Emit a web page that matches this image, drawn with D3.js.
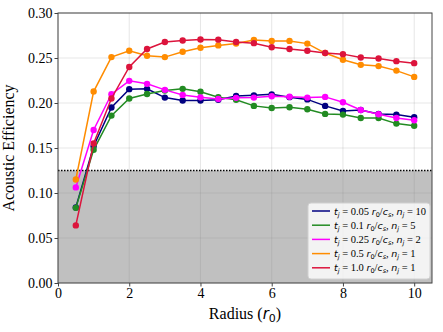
<!DOCTYPE html>
<html>
<head>
<meta charset="utf-8">
<script src="https://cdn.jsdelivr.net/npm/d3@7"></script>
<style>
body { margin: 0; background: #fff; }
text { fill: #000; }
</style>
</head>
<body>
<div id="my_dataviz"></div>
<script>
// radius sample points
var radius = [0.5, 1, 1.5, 2, 2.5, 3, 3.5, 4, 4.5, 5, 5.5, 6, 6.5, 7, 7.5, 8, 8.5, 9, 9.5, 10];

// acoustic efficiency per run
var eff_005 = [0.084, 0.152, 0.195, 0.2154, 0.2157, 0.206, 0.2027, 0.2027, 0.2035, 0.2078, 0.2085, 0.2096, 0.2065, 0.204, 0.1968, 0.1912, 0.1923, 0.1879, 0.1871, 0.1842];
var eff_01 = [0.0835, 0.148, 0.186, 0.205, 0.210, 0.2138, 0.2157, 0.2126, 0.2065, 0.2035, 0.1968, 0.1945, 0.1952, 0.1931, 0.1879, 0.1871, 0.1834, 0.1834, 0.1771, 0.1748];
var eff_025 = [0.1062, 0.170, 0.2098, 0.2246, 0.2213, 0.2146, 0.209, 0.2063, 0.2044, 0.2057, 0.206, 0.2075, 0.207, 0.206, 0.2068, 0.2009, 0.1923, 0.1875, 0.1834, 0.1808];
var eff_05 = [0.115, 0.2127, 0.251, 0.258, 0.2525, 0.251, 0.257, 0.2614, 0.264, 0.266, 0.270, 0.269, 0.269, 0.266, 0.2555, 0.248, 0.2424, 0.241, 0.236, 0.229];
var eff_10 = [0.064, 0.155, 0.205, 0.240, 0.260, 0.2677, 0.2695, 0.2706, 0.2704, 0.2677, 0.2665, 0.262, 0.260, 0.258, 0.2555, 0.2543, 0.2506, 0.2495, 0.2465, 0.2443];

var series = [
  {tj: "0.05", nj: "10", values: eff_005, color: "#000080"},
  {tj: "0.1", nj: "5", values: eff_01, color: "#228B22"},
  {tj: "0.25", nj: "2", values: eff_025, color: "#FF00FF"},
  {tj: "0.5", nj: "1", values: eff_05, color: "#FF8C00"},
  {tj: "1.0", nj: "1", values: eff_10, color: "#DC143C"}
];

var xTicks = [0, 2, 4, 6, 8, 10];
var yTicks = [0.00, 0.05, 0.10, 0.15, 0.20, 0.25, 0.30];
var threshold = 0.125;

// set the dimensions and margins of the graph
var margin = {top: 13, right: 11, bottom: 49, left: 58},
width = 443 - margin.left - margin.right,
height = 332 - margin.top - margin.bottom;

var svg = d3.select("#my_dataviz")
.append("svg")
.attr("width", 443)
.attr("height", 332)
.append("g")
.attr("transform", "translate(" + margin.left + "," + margin.top + ")");

var x = d3.scaleLinear().domain([0, 10.5]).range([0, width]);
var y = d3.scaleLinear().domain([0, 0.30]).range([height, 0]);

// shaded area below threshold
svg.append("rect")
.attr("x", 0)
.attr("y", y(threshold))
.attr("width", width)
.attr("height", y(0) - y(threshold))
.style("fill", "#c0c0c0");

// grid
svg.append("g").selectAll("line.gx")
.data(xTicks).enter().append("line")
  .attr("x1", function(d){ return x(d); })
  .attr("x2", function(d){ return x(d); })
  .attr("y1", 0).attr("y2", height)
  .style("stroke", "rgba(128,128,128,0.2)").style("stroke-width", 1);
svg.append("g").selectAll("line.gy")
.data(yTicks).enter().append("line")
  .attr("y1", function(d){ return y(d); })
  .attr("y2", function(d){ return y(d); })
  .attr("x1", 0).attr("x2", width)
  .style("stroke", "rgba(128,128,128,0.2)").style("stroke-width", 1);

// dotted threshold line
svg.append("line")
.attr("x1", 0).attr("x2", width)
.attr("y1", y(threshold)).attr("y2", y(threshold))
.style("stroke", "#000").style("stroke-width", 1.5)
.style("stroke-dasharray", "1.5,1.5");

// lines and dots
var line = d3.line()
.x(function(d, i){ return x(radius[i]); })
.y(function(d){ return y(d); });

series.forEach(function(s){
  svg.append("path")
  .datum(s.values)
  .attr("d", line)
  .style("fill", "none")
  .style("stroke", s.color)
  .style("stroke-width", 1.5);
  svg.append("g").selectAll("circle")
  .data(s.values).enter().append("circle")
    .attr("cx", function(d, i){ return x(radius[i]); })
    .attr("cy", function(d){ return y(d); })
    .attr("r", 3.2)
    .style("fill", s.color);
});

// frame
svg.append("rect")
.attr("width", width).attr("height", height)
.style("fill", "none").style("stroke", "#444").style("stroke-width", 1);

// axes
var xAxis = svg.append("g")
.attr("transform", "translate(0," + height + ")")
.call(d3.axisBottom(x).tickValues(xTicks).tickSize(3.5).tickPadding(2).tickFormat(d3.format("d")));
var yAxis = svg.append("g")
.call(d3.axisLeft(y).tickValues(yTicks).tickSize(3.5).tickPadding(2).tickFormat(d3.format(".2f")));
[xAxis, yAxis].forEach(function(a){
  a.select(".domain").remove();
  a.selectAll("line").style("stroke", "#444");
  a.selectAll("text").style("font-family", "'Liberation Serif', serif").style("font-size", "14px").style("fill", "#000");
});

// axis labels
var xl = svg.append("text")
.attr("x", width / 2).attr("y", height + 36)
.attr("text-anchor", "middle")
.style("font-family", "'Liberation Serif', serif").style("font-size", "16px");
xl.append("tspan").text("Radius (");
xl.append("tspan").text("r").style("font-family", "'DejaVu Sans', sans-serif").style("font-style", "italic").style("font-size", "15px");
xl.append("tspan").text("0").attr("dy", 3).style("font-family", "'DejaVu Sans', sans-serif").style("font-size", "11px");
xl.append("tspan").text(")").attr("dy", -3);

svg.append("text")
.attr("transform", "translate(" + (-44) + "," + (height / 2) + ") rotate(-90)")
.attr("text-anchor", "middle")
.style("font-family", "'Liberation Serif', serif").style("font-size", "16px")
.text("Acoustic Efficiency");

// legend
var lg = svg.append("g").attr("transform", "translate(" + (308 - margin.left) + "," + (203 - margin.top) + ")");
lg.append("rect")
.attr("width", 122).attr("height", 76).attr("rx", 3)
.style("fill", "rgba(255,255,255,0.8)").style("stroke", "#d0d0d0");

var sans = "'DejaVu Sans', sans-serif";
series.forEach(function(s, i){
  var row = lg.append("g").attr("transform", "translate(0," + (8 + i * 14.2) + ")");
  row.append("line")
  .attr("x1", 4).attr("x2", 22)
  .style("stroke", s.color).style("stroke-width", 1.5);
  var t = row.append("text")
  .attr("x", 26).attr("y", 3.5)
  .style("font-family", "'Liberation Serif', serif").style("font-size", "10.5px");
  function v(str){ return t.append("tspan").text(str).style("font-family", sans).style("font-style", "italic").style("font-size", "9.5px"); }
  function sub(str, it){ return t.append("tspan").text(str).attr("dy", 2).style("font-family", sans).style("font-style", it ? "italic" : "normal").style("font-size", "6.5px"); }
  v("t"); sub("j", true);
  t.append("tspan").text(" = " + s.tj + " ").attr("dy", -2);
  v("r"); sub("0", false);
  t.append("tspan").text("/").attr("dy", -2);
  v("c"); sub("s", true);
  t.append("tspan").text(", ").attr("dy", -2);
  v("n"); sub("j", true);
  t.append("tspan").text(" = " + s.nj).attr("dy", -2);
});
</script>
</body>
</html>
